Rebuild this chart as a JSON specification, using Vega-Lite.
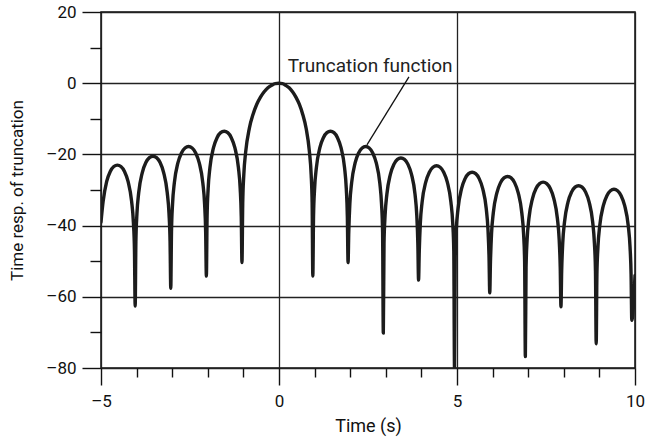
{
  "$schema": "https://vega.github.io/schema/vega-lite/v6.json",
  "width": 534,
  "height": 356,
  "autosize": {"type": "none"},
  "padding": {"left": 101, "top": 12, "right": 23, "bottom": 79},
  "background": "white",
  "datasets": {
    "curve": [
      {"t": -5, "db": -39}, {"t": -4.94, "db": -33.2}, {"t": -4.84, "db": -27.6}, {"t": -4.74, "db": -24.8}, {"t": -4.64, "db": -23.4}, {"t": -4.54, "db": -23}, {"t": -4.44, "db": -23.4}, {"t": -4.34, "db": -24.8}, {"t": -4.24, "db": -27.6}, {"t": -4.14, "db": -33.2}, {"t": -4.09, "db": -39.1}, {"t": -4.06, "db": -47}, {"t": -4.04, "db": -62.6},
      {"t": -4.02, "db": -44.5}, {"t": -3.99, "db": -36.6}, {"t": -3.94, "db": -30.7}, {"t": -3.84, "db": -25.1}, {"t": -3.74, "db": -22.3}, {"t": -3.64, "db": -20.9}, {"t": -3.54, "db": -20.5}, {"t": -3.44, "db": -20.9}, {"t": -3.34, "db": -22.3}, {"t": -3.24, "db": -25.1}, {"t": -3.14, "db": -30.7}, {"t": -3.09, "db": -36.6}, {"t": -3.06, "db": -44.5}, {"t": -3.04, "db": -57.6},
      {"t": -3.02, "db": -41.8}, {"t": -2.99, "db": -33.9}, {"t": -2.94, "db": -28}, {"t": -2.84, "db": -22.4}, {"t": -2.74, "db": -19.6}, {"t": -2.64, "db": -18.2}, {"t": -2.54, "db": -17.8}, {"t": -2.44, "db": -18.2}, {"t": -2.34, "db": -19.6}, {"t": -2.24, "db": -22.4}, {"t": -2.14, "db": -28}, {"t": -2.09, "db": -33.9}, {"t": -2.06, "db": -41.8}, {"t": -2.04, "db": -54.2},
      {"t": -2.02, "db": -37.5}, {"t": -1.99, "db": -29.6}, {"t": -1.94, "db": -23.7}, {"t": -1.84, "db": -18.1}, {"t": -1.74, "db": -15.3}, {"t": -1.64, "db": -13.9}, {"t": -1.54, "db": -13.5}, {"t": -1.44, "db": -13.9}, {"t": -1.34, "db": -15.3}, {"t": -1.24, "db": -18.1}, {"t": -1.14, "db": -23.7}, {"t": -1.09, "db": -29.6}, {"t": -1.06, "db": -37.5}, {"t": -1.04, "db": -50.4},
      {"t": -1.019, "db": -33.8}, {"t": -0.988, "db": -25.6}, {"t": -0.936, "db": -19.3}, {"t": -0.832, "db": -12.6}, {"t": -0.728, "db": -8.7}, {"t": -0.624, "db": -5.9}, {"t": -0.52, "db": -3.9}, {"t": -0.416, "db": -2.4}, {"t": -0.312, "db": -1.3}, {"t": -0.208, "db": -0.6}, {"t": -0.104, "db": -0.1}, {"t": 0, "db": 0}, {"t": 0.095, "db": -0.1}, {"t": 0.19, "db": -0.6}, {"t": 0.285, "db": -1.3}, {"t": 0.38, "db": -2.4}, {"t": 0.475, "db": -3.9}, {"t": 0.57, "db": -5.9}, {"t": 0.665, "db": -8.7}, {"t": 0.76, "db": -12.6}, {"t": 0.855, "db": -19.3}, {"t": 0.903, "db": -25.6}, {"t": 0.931, "db": -33.8}, {"t": 0.95, "db": -54.2},
      {"t": 0.97, "db": -37.5}, {"t": 1.0, "db": -29.6}, {"t": 1.05, "db": -23.7}, {"t": 1.148, "db": -18.1}, {"t": 1.247, "db": -15.3}, {"t": 1.346, "db": -13.9}, {"t": 1.445, "db": -13.5}, {"t": 1.544, "db": -13.9}, {"t": 1.643, "db": -15.3}, {"t": 1.742, "db": -18.1}, {"t": 1.841, "db": -23.7}, {"t": 1.89, "db": -29.6}, {"t": 1.92, "db": -37.5}, {"t": 1.94, "db": -50.4},
      {"t": 1.96, "db": -41.8}, {"t": 1.99, "db": -33.9}, {"t": 2.04, "db": -28}, {"t": 2.138, "db": -22.4}, {"t": 2.237, "db": -19.6}, {"t": 2.336, "db": -18.2}, {"t": 2.435, "db": -17.8}, {"t": 2.534, "db": -18.2}, {"t": 2.633, "db": -19.6}, {"t": 2.732, "db": -22.4}, {"t": 2.831, "db": -28}, {"t": 2.88, "db": -33.9}, {"t": 2.91, "db": -41.8}, {"t": 2.93, "db": -70.2},
      {"t": 2.95, "db": -45}, {"t": 2.98, "db": -37.1}, {"t": 3.03, "db": -31.2}, {"t": 3.128, "db": -25.6}, {"t": 3.227, "db": -22.8}, {"t": 3.326, "db": -21.4}, {"t": 3.425, "db": -21}, {"t": 3.524, "db": -21.4}, {"t": 3.623, "db": -22.8}, {"t": 3.722, "db": -25.6}, {"t": 3.821, "db": -31.2}, {"t": 3.87, "db": -37.1}, {"t": 3.9, "db": -45}, {"t": 3.92, "db": -55.3},
      {"t": 3.94, "db": -47.2}, {"t": 3.97, "db": -39.3}, {"t": 4.02, "db": -33.4}, {"t": 4.122, "db": -27.8}, {"t": 4.223, "db": -25}, {"t": 4.324, "db": -23.6}, {"t": 4.425, "db": -23.2}, {"t": 4.526, "db": -23.6}, {"t": 4.627, "db": -25}, {"t": 4.728, "db": -27.8}, {"t": 4.829, "db": -33.4}, {"t": 4.88, "db": -39.3}, {"t": 4.91, "db": -47.2}, {"t": 4.93, "db": -80},
      {"t": 4.95, "db": -49}, {"t": 4.98, "db": -41.1}, {"t": 5.03, "db": -35.2}, {"t": 5.128, "db": -29.6}, {"t": 5.227, "db": -26.8}, {"t": 5.326, "db": -25.4}, {"t": 5.425, "db": -25}, {"t": 5.524, "db": -25.4}, {"t": 5.623, "db": -26.8}, {"t": 5.722, "db": -29.6}, {"t": 5.821, "db": -35.2}, {"t": 5.87, "db": -41.1}, {"t": 5.9, "db": -49}, {"t": 5.92, "db": -58.9},
      {"t": 5.94, "db": -50.2}, {"t": 5.97, "db": -42.3}, {"t": 6.02, "db": -36.4}, {"t": 6.12, "db": -30.8}, {"t": 6.22, "db": -28}, {"t": 6.32, "db": -26.6}, {"t": 6.42, "db": -26.2}, {"t": 6.52, "db": -26.6}, {"t": 6.62, "db": -28}, {"t": 6.72, "db": -30.8}, {"t": 6.82, "db": -36.4}, {"t": 6.87, "db": -42.3}, {"t": 6.9, "db": -50.2}, {"t": 6.92, "db": -76.8},
      {"t": 6.94, "db": -51.8}, {"t": 6.97, "db": -43.9}, {"t": 7.02, "db": -38}, {"t": 7.12, "db": -32.4}, {"t": 7.22, "db": -29.6}, {"t": 7.32, "db": -28.2}, {"t": 7.42, "db": -27.8}, {"t": 7.52, "db": -28.2}, {"t": 7.62, "db": -29.6}, {"t": 7.72, "db": -32.4}, {"t": 7.82, "db": -38}, {"t": 7.87, "db": -43.9}, {"t": 7.9, "db": -51.8}, {"t": 7.92, "db": -62.8},
      {"t": 7.94, "db": -52.8}, {"t": 7.97, "db": -44.9}, {"t": 8.02, "db": -39}, {"t": 8.118, "db": -33.4}, {"t": 8.217, "db": -30.6}, {"t": 8.316, "db": -29.2}, {"t": 8.415, "db": -28.8}, {"t": 8.514, "db": -29.2}, {"t": 8.613, "db": -30.6}, {"t": 8.712, "db": -33.4}, {"t": 8.811, "db": -39}, {"t": 8.86, "db": -44.9}, {"t": 8.89, "db": -52.8}, {"t": 8.91, "db": -73.2},
      {"t": 8.93, "db": -53.8}, {"t": 8.96, "db": -45.9}, {"t": 9.01, "db": -40}, {"t": 9.11, "db": -34.4}, {"t": 9.21, "db": -31.6}, {"t": 9.31, "db": -30.2}, {"t": 9.41, "db": -29.8}, {"t": 9.51, "db": -30.2}, {"t": 9.61, "db": -31.6}, {"t": 9.71, "db": -34.4}, {"t": 9.81, "db": -40}, {"t": 9.86, "db": -45.9}, {"t": 9.89, "db": -53.8}, {"t": 9.91, "db": -66.6}, {"t": 10, "db": -54}
    ],
    "note": [
      {"t": 3.65, "db": 1.8, "t2": 2.47, "db2": -17.3, "label": "Truncation function", "lt": 2.56, "ldb": 3.26}
    ]
  },
  "encoding": {
    "x": {
      "field": "t", "type": "quantitative",
      "scale": {"domain": [-5, 10], "nice": false, "zero": false},
      "axis": {
        "title": "Time (s)",
        "values": [-5, -4, -3, -2, -1, 0, 1, 2, 3, 4, 5, 6, 7, 8, 9, 10],
        "format": "d",
        "labelExpr": "datum.value % 5 === 0 ? replace(datum.label, /[-\u2212]/, '\u2013') : ''",
        "tickSize": {"condition": {"test": "datum.value % 5 !== 0", "value": 9}, "value": 17},
        "gridOpacity": {"condition": {"test": "datum.value % 5 !== 0", "value": 0}, "value": 1},
        "labelPadding": 8,
        "titlePadding": 8
      }
    },
    "y": {
      "field": "db", "type": "quantitative",
      "scale": {"domain": [-80, 20], "nice": false, "zero": false},
      "axis": {
        "title": "Time resp. of truncation",
        "titleFontSize": 17,
        "values": [-80, -70, -60, -50, -40, -30, -20, -10, 0, 10, 20],
        "format": "d",
        "labelExpr": "datum.value % 20 === 0 ? replace(datum.label, /[-\u2212]/, '\u2013') : ''",
        "tickSize": {"condition": {"test": "datum.value % 20 !== 0", "value": 11}, "value": 19},
        "gridOpacity": {"condition": {"test": "datum.value % 20 !== 0", "value": 0}, "value": 1},
        "labelPadding": 6,
        "titlePadding": 19
      }
    }
  },
  "layer": [
    {
      "data": {"name": "curve"},
      "mark": {"type": "line", "color": "#1c1c1c", "strokeWidth": 3.4, "interpolate": "monotone", "strokeJoin": "round", "strokeCap": "round", "clip": true}
    },
    {
      "data": {"name": "note"},
      "mark": {"type": "rule", "color": "#111", "strokeWidth": 1.3},
      "encoding": {
        "x2": {"field": "t2"},
        "y2": {"field": "db2"}
      }
    },
    {
      "data": {"name": "note"},
      "mark": {"type": "text", "align": "center", "baseline": "alphabetic", "font": "Roboto", "fontSize": 19, "color": "#222"},
      "encoding": {
        "x": {"field": "lt", "type": "quantitative"},
        "y": {"field": "ldb", "type": "quantitative"},
        "text": {"field": "label"}
      }
    }
  ],
  "config": {
    "font": "Roboto",
    "view": {"stroke": "#111", "strokeWidth": 1.5},
    "axis": {
      "domain": false,
      "grid": true,
      "gridColor": "#222",
      "gridWidth": 1.3,
      "tickColor": "#111",
      "tickWidth": 1.4,
      "labelFont": "Roboto",
      "labelFontSize": 17,
      "labelColor": "#111",
      "titleFont": "Roboto",
      "titleFontSize": 18,
      "titleFontWeight": "normal",
      "titleColor": "#111",
      "labelFlush": false,
      "labelOverlap": false
    }
  }
}
